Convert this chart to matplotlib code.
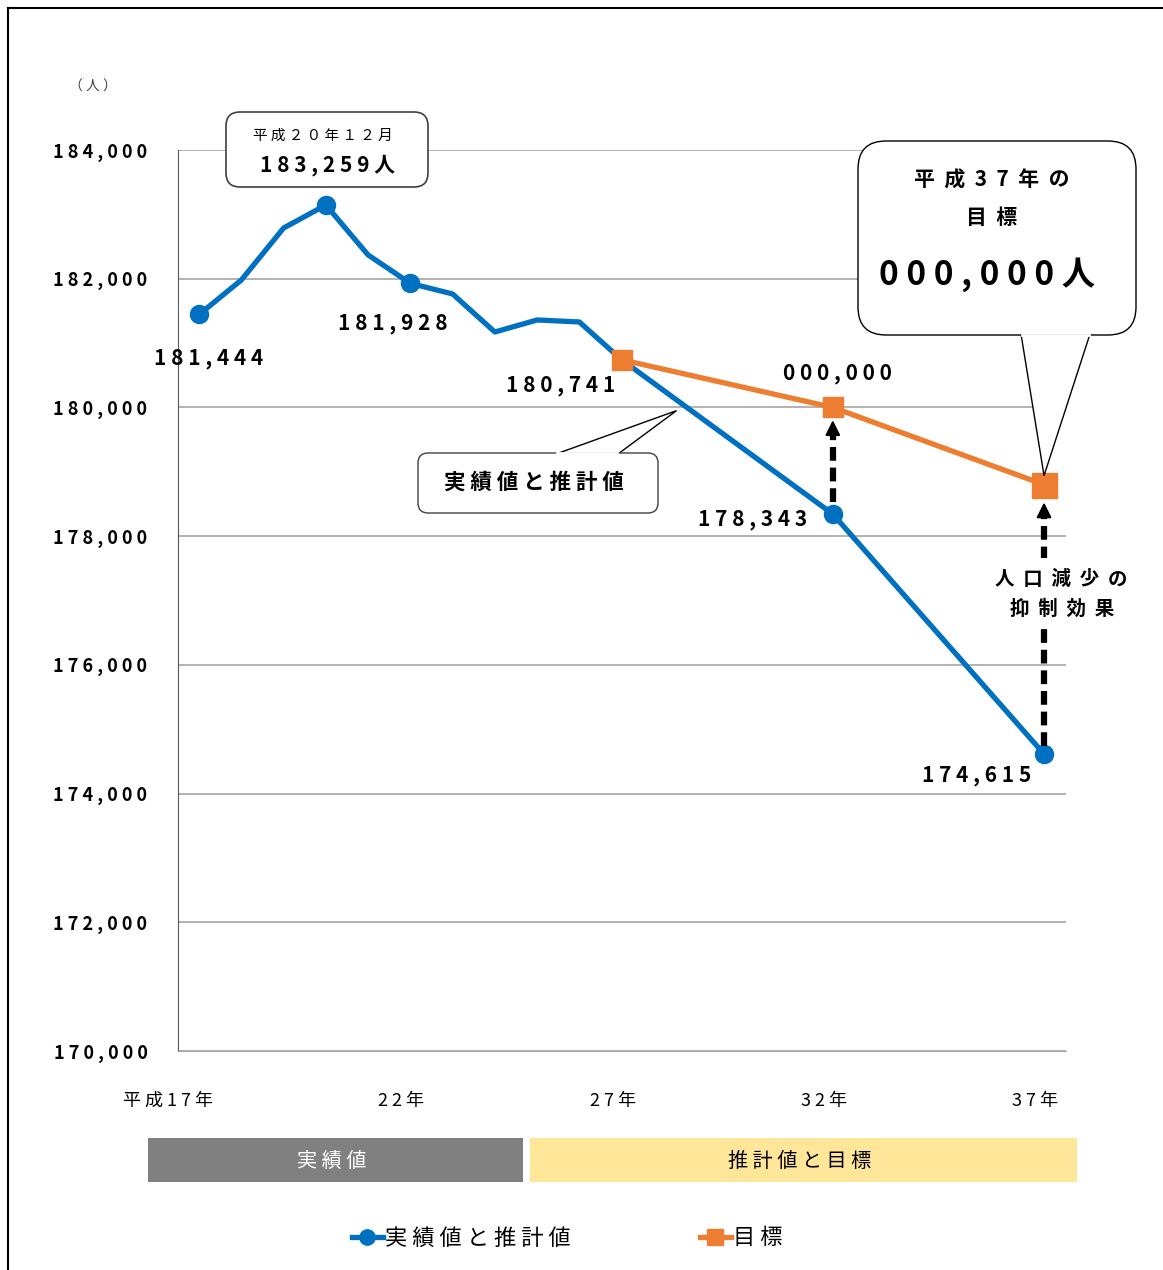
import matplotlib.pyplot as plt
import numpy as np
from matplotlib.lines import Line2D
from matplotlib.patches import FancyBboxPatch, Polygon, Rectangle

plt.rcParams['font.family'] = ['Noto Sans CJK JP', 'DejaVu Sans']

# --- Data ---
actual_years = [17, 18, 19, 20, 21, 22, 23, 24, 25, 26, 27, 32, 37]
actual_values = [181444, 181980, 182788, 183145, 182369, 181928, 181763,
                 181172, 181359, 181328, 180741, 178343, 174615]
actual_marked = [17, 20, 22, 32, 37]

target_years = [27, 32, 37]
target_values = [180741, 180000, 178800]

y_ticks = [170000, 172000, 174000, 176000, 178000, 180000, 182000, 184000]
x_label_years = [17, 22, 27, 32, 37]
x_labels = ['平成17年', '22年', '27年', '32年', '37年']

peak_month_label = '平成２０年１２月'
peak_month_value = '183,259人'
goal_title = ['平成37年の', '目標']
goal_value = '000,000人'

BLUE = '#0070C0'
ORANGE = '#ED7D31'
W, H = 1163, 1270


def sp(s, n=1):
    return (' ' * n).join(s)


fig = plt.figure(figsize=(W / 100, H / 100), dpi=100)
ax = fig.add_axes([178 / W, 1 - 1051 / H, (1066 - 178) / W, (1051 - 150) / H])

# overlay in pixel coordinates for boxes and callouts
ov = fig.add_axes([0, 0, 1, 1], zorder=5)
ov.set_xlim(0, W)
ov.set_ylim(H, 0)
ov.axis('off')
ov.patch.set_alpha(0)


def to_px(x, y):
    disp = ax.transData.transform((x, y))
    return ov.transData.inverted().transform(disp)


# --- Main axes ---
ax.set_xlim(16.5, 37.52)
ax.set_ylim(170000, 184000)
ax.set_yticks(y_ticks)
ax.set_yticklabels([sp(f'{v:,}') for v in y_ticks], fontsize=13, fontweight='bold')
ax.tick_params(axis='y', length=0, pad=22)
ax.set_xticks([])
ax.grid(axis='y', color='#A6A6A6', linewidth=1.2)
ax.set_axisbelow(True)
for s in ['top', 'right']:
    ax.spines[s].set_visible(False)
ax.spines['left'].set_color('#595959')
ax.spines['bottom'].set_color('#A6A6A6')

ax.plot(actual_years, actual_values, color=BLUE, lw=3.8, zorder=3,
        marker='o', markersize=13,
        markevery=[actual_years.index(y) for y in actual_marked])
ax.plot(target_years[:2], target_values[:2], color=ORANGE, lw=3.8, zorder=4,
        marker='s', markersize=14)
ax.plot(target_years[1:], target_values[1:], color=ORANGE, lw=3.8, zorder=4)
ax.plot(target_years[-1], target_values[-1], marker='s', markersize=18,
        color=ORANGE, zorder=4)

for i, yr in enumerate(x_label_years):
    ax.text(yr + 0.33, -0.055, sp(x_labels[i]), transform=ax.get_xaxis_transform(),
            ha='right', va='center', fontsize=13)

# --- Data labels ---
def vlabel(x, y, text, dx, dy, size=15):
    ax.annotate(sp(text), (x, y), xytext=(dx, -dy), textcoords='offset pixels',
                ha='center', va='center', fontsize=size, fontweight='bold', zorder=6)


vlabel(17, actual_values[0], '181,444', 10, 44)
vlabel(22, actual_values[5], '181,928', -18, 40)
vlabel(27, actual_values[10], '180,741', -61, 26)
vlabel(32, target_values[1], '000,000', 5, -34)
vlabel(32, actual_values[11], '178,343', -80, 5)
vlabel(37, actual_values[12], '174,615', -67, 22)

# --- Dashed arrows ---
for yr, lo, hi, gap in [(32, actual_values[11], target_values[1], None),
                        (37, actual_values[12], target_values[2], True)]:
    xb, yb = to_px(yr, lo)
    xt, yt = to_px(yr, hi)
    tip = yt + (10 if gap is None else 15)
    start = yb - (12 if gap is None else 8)
    ov.plot([xb, xb], [start, tip + 14], color='black', lw=4.5,
            dashes=(2.2, 1.1), zorder=2)
    ov.annotate('', xy=(xt, tip), xytext=(xt, tip + 18),
                arrowprops=dict(arrowstyle='-|>,head_width=0.45,head_length=0.9',
                                color='black', lw=1.5), zorder=3)
    if gap:
        ov.text(xt + 17, 579, sp('人口減少の', 2), ha='center', va='center',
                fontsize=14, fontweight='bold', zorder=4,
                bbox=dict(facecolor='white', edgecolor='none', pad=8))
        ov.text(xt + 18, 609, sp('抑制効果', 2), ha='center', va='center',
                fontsize=14, fontweight='bold', zorder=4,
                bbox=dict(facecolor='white', edgecolor='none', pad=6))

# --- Callouts ---
ov.add_patch(FancyBboxPatch((226, 112), 202, 75, boxstyle='round,pad=0,rounding_size=14',
                            facecolor='white', edgecolor='#404040', lw=1.2, zorder=3))
ov.text(323, 136, sp(peak_month_label), ha='center', va='center', fontsize=10.5, zorder=4)
ov.text(328, 165, sp(peak_month_value), ha='center', va='center', fontsize=15,
        fontweight='bold', zorder=4)

# series callout
sx, sy = to_px(28.3, 179950)
ov.add_patch(Polygon([(556, 454), (sx, sy), (618, 454)], closed=True,
                     facecolor='white', edgecolor='black', lw=1, zorder=3))
ov.add_patch(FancyBboxPatch((418, 453), 240, 60, boxstyle='round,pad=0,rounding_size=10',
                            facecolor='white', edgecolor='#404040', lw=1, zorder=3))
ov.plot([557, 617], [453, 453], color='white', lw=2, zorder=3.5)
ov.text(534, 482, sp('実績値と推計値'), ha='center', va='center', fontsize=15.5,
        fontweight='bold', zorder=4)

# goal callout
gx, gy = to_px(37, target_values[2])
ov.add_patch(Polygon([(1021, 334), (gx, gy - 9), (1090, 334)], closed=True,
                     facecolor='white', edgecolor='black', lw=1, zorder=3))
ov.add_patch(FancyBboxPatch((858, 141), 278, 194, boxstyle='round,pad=0,rounding_size=28',
                            facecolor='white', edgecolor='black', lw=1, zorder=3))
ov.plot([1022, 1089], [335, 335], color='white', lw=2, zorder=3.5)
ov.text(992, 180, sp(goal_title[0], 2), ha='center', va='center', fontsize=15,
        fontweight='bold', zorder=4)
ov.text(992, 218, sp(goal_title[1], 2), ha='center', va='center', fontsize=15,
        fontweight='bold', zorder=4)
ov.text(987, 275, sp(goal_value), ha='center', va='center', fontsize=24,
        fontweight='bold', zorder=4)

ov.text(93, 87, sp('（人）'), ha='center', va='center', fontsize=10, color='#404040')

# --- Period bands ---
ov.add_patch(Rectangle((148, 1138), 375, 44, facecolor='#808080', edgecolor='none'))
ov.add_patch(Rectangle((530, 1138), 547, 44, facecolor='#FFE699', edgecolor='none'))
ov.text(332, 1161, sp('実績値'), ha='center', va='center', fontsize=14.5, color='white')
ov.text(800, 1161, sp('推計値と目標'), ha='center', va='center', fontsize=14.5)

# --- Frame lines ---
ov.plot([8, W], [8, 8], color='black', lw=1.5)
ov.plot([8, 8], [8, H], color='black', lw=1.5)

# --- Legend ---
handles = [Line2D([], [], color=BLUE, lw=3.8, marker='o', markersize=11),
           Line2D([], [], color=ORANGE, lw=3.8, marker='s', markersize=11)]
fig.legend(handles, [sp('実績値と推計値'), sp('目標')], ncol=2, frameon=False,
           loc='center', bbox_to_anchor=(567 / W, 1 - 1238 / H), fontsize=16,
           handlelength=1.4, handletextpad=0.1, columnspacing=5.8)

fig.savefig('out.png', dpi=100)
